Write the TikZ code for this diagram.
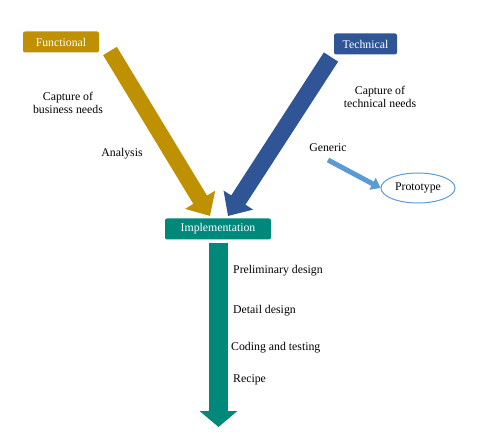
\documentclass[tikz,border=0pt]{standalone}
\usepackage{fontspec}
\setmainfont{Liberation Serif}
\usetikzlibrary{arrows.meta, shapes.geometric}
\definecolor{gold}{RGB}{191,144,0}
\definecolor{navy}{RGB}{47,85,151}
\definecolor{teal}{RGB}{0,137,123}
\definecolor{sky}{RGB}{91,155,213}

\tikzset{
  box/.style={rounded corners=2pt, text=white, minimum height=21pt, inner sep=0pt},
  lab/.style={align=center, font=\fontsize{11.8}{13.5}\selectfont, inner sep=0pt}
}

\begin{document}
\begin{tikzpicture}[x=1pt, y=-1pt]

\useasboundingbox (0,0) rectangle (503,446);

\node[box, fill=gold, minimum width=76pt, lab, text=white] (func) at (61,42) {Functional};
\node[box, fill=navy, minimum width=63pt, lab, text=white] (tech) at (365.5,44) {Technical};
\node[box, fill=teal, minimum width=106pt, lab, text=white] (impl) at (218,229) {Implementation};
\node[draw=sky, line width=1pt, ellipse, minimum width=74pt, minimum height=30pt, lab] (proto) at (418,188) {Prototype};

\coordinate (fa) at (110,51);
\coordinate (fb) at (210,216);
\coordinate (ta) at (331,57);
\coordinate (tb) at (228,216);
\coordinate (ia) at (218.5,243);
\coordinate (ib) at (218.5,427);
\coordinate (ga) at (328,160);

\draw[gold, line width=16pt, -{Triangle[width=34pt, length=19pt]}] (fa)--(fb);
\draw[navy, line width=17pt, -{Triangle[width=34pt, length=19pt]}] (ta)--(tb);
\draw[teal, line width=19pt, -{Triangle[width=37pt, length=16pt]}] (ia)--(ib);
\draw[sky, line width=5pt, -{Triangle[width=13pt, length=9pt]}] (ga)--(proto.west);

\node[lab] (bus) at (68,103) {Capture of\\business needs};
\node[lab] (ana) at (122,154) {Analysis};
\node[lab] (tn) at (380,97) {Capture of\\technical needs};
\node[lab] (gen) at (328,148) {Generic};

\node[lab, anchor=west] (pre) at (233,271) {Preliminary design};
\node[lab, anchor=west] (det) at (233,311) {Detail design};
\node[lab, anchor=west] (cod) at (231,348) {Coding and testing};
\node[lab, anchor=west] (rec) at (233,380) {Recipe};

\end{tikzpicture}
\end{document}
